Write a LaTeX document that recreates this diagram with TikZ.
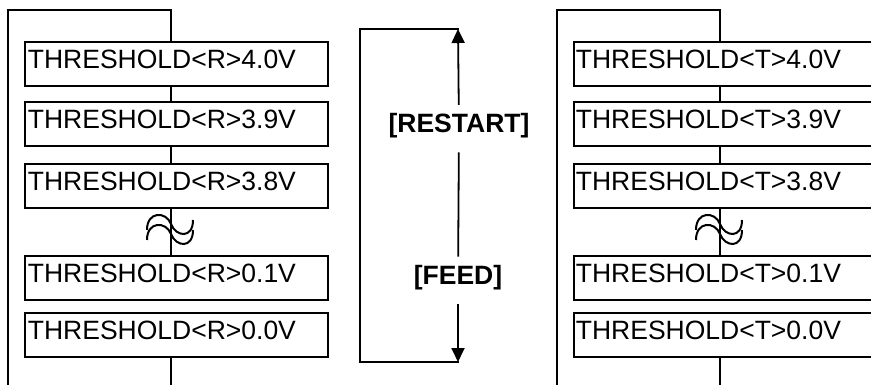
\documentclass[tikz,border=0pt]{standalone}
\usepackage{fontspec}
\setmainfont{Liberation Sans}
\usetikzlibrary{arrows.meta}
\tikzset{
  ln/.style={line width=1.8pt, line cap=rect},
  menubox/.style={draw, line width=1.8pt, anchor=north west, inner ysep=0pt,
    text height=27pt, text depth=17pt, align=left, font=\fontsize{26.5}{30}\selectfont},
  lbox/.style={menubox, inner xsep=3pt, text width=297pt},
  rbox/.style={menubox, inner xsep=2pt, text width=340pt},
  keylabel/.style={inner sep=0pt, text height=28pt, text depth=20pt, font=\fontsize{26.5}{30}\selectfont\bfseries},
  wave/.style={line width=2pt},
  arr/.style={line width=1.8pt, -{Triangle[length=14pt, width=13pt]}}
}
\begin{document}
\begin{tikzpicture}[x=1pt, y=-1pt]
\useasboundingbox (0,0) rectangle (871,385);
\clip (0,0) rectangle (871,385);

% ---------- left panel ----------
\coordinate (ltop) at (171,10);
\coordinate (lcorner) at (8,10);
\coordinate (lleft) at (8,395);
\coordinate (lbot) at (171,395);
\node[lbox] (l1) at (24,41)  {THRESHOLD<R>4.0V};
\node[lbox] (l2) at (24,101) {THRESHOLD<R>3.9V};
\node[lbox] (l3) at (24,163) {THRESHOLD<R>3.8V};
\node[lbox] (l4) at (24,255) {THRESHOLD<R>0.1V};
\node[lbox] (l5) at (24,312) {THRESHOLD<R>0.0V};
\draw[ln] (lleft) -- (lcorner) -- (ltop) -- (l1.north -| ltop);
\draw[ln] (l1.south -| ltop) -- (l2.north -| ltop);
\draw[ln] (l2.south -| ltop) -- (l3.north -| ltop);
\draw[ln] (l3.south -| ltop) -- (l4.north -| ltop);
\draw[ln] (l5.south -| ltop) -- (lbot);
\begin{scope}[shift={(171,0)}]
  \draw[wave] (-24,230) .. controls (-24,211) and (-5,211) .. (0,224) .. controls (5,237) and (22,239) .. (22,220);
  \draw[wave] (-24,240) .. controls (-24,221) and (-5,221) .. (0,234) .. controls (5,247) and (22,249) .. (22,230);
\end{scope}

% ---------- middle ----------
\coordinate (mtop) at (458,29);
\coordinate (mbot) at (458,362);
\coordinate (mtl) at (360,29);
\coordinate (mbl) at (360,362);
\node[keylabel] (restart) at (459,129) {[RESTART]};
\node[keylabel] (feed) at (458,280) {[FEED]};
\draw[arr] (restart) -- (mtop);
\draw[ln] (restart) -- (feed);
\draw[arr] (feed) -- (mbot);
\draw[ln] (mtop) -- (mtl) -- (mbl) -- (mbot);

% ---------- right panel ----------
\coordinate (rtop) at (720,10);
\coordinate (rcorner) at (557,10);
\coordinate (rleft) at (557,395);
\coordinate (rbot) at (720,395);
\node[rbox] (r1) at (573,41)  {THRESHOLD<T>4.0V};
\node[rbox] (r2) at (573,101) {THRESHOLD<T>3.9V};
\node[rbox] (r3) at (573,163) {THRESHOLD<T>3.8V};
\node[rbox] (r4) at (573,255) {THRESHOLD<T>0.1V};
\node[rbox] (r5) at (573,312) {THRESHOLD<T>0.0V};
\draw[ln] (rleft) -- (rcorner) -- (rtop) -- (r1.north -| rtop);
\draw[ln] (r1.south -| rtop) -- (r2.north -| rtop);
\draw[ln] (r2.south -| rtop) -- (r3.north -| rtop);
\draw[ln] (r3.south -| rtop) -- (r4.north -| rtop);
\draw[ln] (r5.south -| rtop) -- (rbot);
\begin{scope}[shift={(720,0)}]
  \draw[wave] (-24,230) .. controls (-24,211) and (-5,211) .. (0,224) .. controls (5,237) and (22,239) .. (22,220);
  \draw[wave] (-24,240) .. controls (-24,221) and (-5,221) .. (0,234) .. controls (5,247) and (22,249) .. (22,230);
\end{scope}
\end{tikzpicture}
\end{document}
